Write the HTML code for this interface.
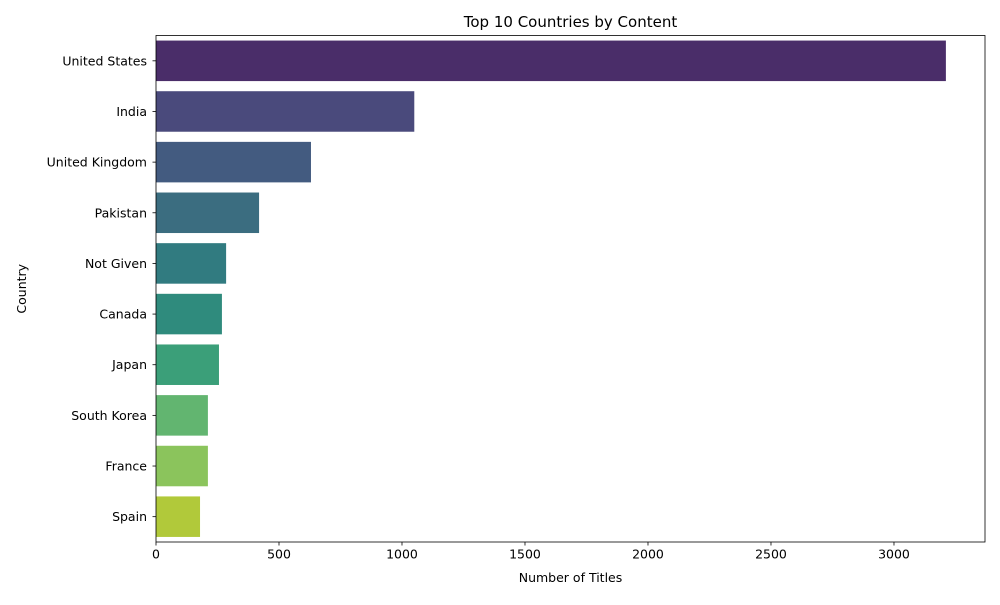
<!DOCTYPE html>
<html><head><meta charset="utf-8"><style>
body{margin:0;background:#fff;font-family:"Liberation Sans","DejaVu Sans",sans-serif;}
svg text{font-family:"DejaVu Sans","Liberation Sans",sans-serif;fill:#000;}
</style></head><body>
<svg id="chart" width="1000" height="600" xmlns="http://www.w3.org/2000/svg"></svg>
<script>
const categories=["United States","India","United Kingdom","Pakistan","Not Given","Canada","Japan","South Korea","France","Spain"];
const values=[3211,1050,630,419,285,268,256,211,211,179];
const colors=["#4a2d69","#4a4a7c","#435b80","#3b6d80","#317b80","#2f8b7d","#3b9f79","#62b570","#8bc45c","#b1c93a"];
const xTicks=[0,500,1000,1500,2000,2500,3000];
const xMax=3370;
const L=156,R=985,T=35.5,B=542;
const svg=document.getElementById('chart');
const NS='http://www.w3.org/2000/svg';
function x(v){return L+(v/xMax)*(R-L);}
const band=(B-T)/categories.length;
function yc(i){return T+band*(i+0.5);}
function mk(t,a){const e=document.createElementNS(NS,t);for(const k in a)e.setAttribute(k,a[k]);svg.appendChild(e);return e;}
categories.forEach((c,i)=>{
  const r=mk('rect',{x:x(0),y:yc(i)-band*0.4,width:x(values[i])-x(0),height:band*0.8,fill:colors[i]});
  
  
  mk('line',{x1:L-3.5,x2:L,y1:yc(i),y2:yc(i),stroke:'#000','stroke-width':0.8});
  const t=mk('text',{x:L-9,y:yc(i)+4.5,'text-anchor':'end','font-size':12.5});
  t.textContent=c;
  
  
});
xTicks.forEach(v=>{
  mk('line',{x1:x(v),x2:x(v),y1:B,y2:B+3.5,stroke:'#000','stroke-width':0.8});
  const t=mk('text',{x:x(v),y:B+16.5,'text-anchor':'middle','font-size':12.5});
  t.textContent=v;
  
  
});
const f=mk('rect',{x:L,y:T,width:R-L,height:B-T,fill:'none',stroke:'#000','stroke-width':0.8});


let t=mk('text',{x:(L+R)/2,y:27,'text-anchor':'middle','font-size':15});
t.textContent='Top 10 Countries by Content';


t=mk('text',{x:(L+R)/2,y:582,'text-anchor':'middle','font-size':12.5});
t.textContent='Number of Titles';


t=mk('text',{x:0,y:0,'text-anchor':'middle','font-size':12.5,transform:'translate(26,'+((T+B)/2)+') rotate(-90)'});
t.textContent='Country';


</script>
</body></html>
